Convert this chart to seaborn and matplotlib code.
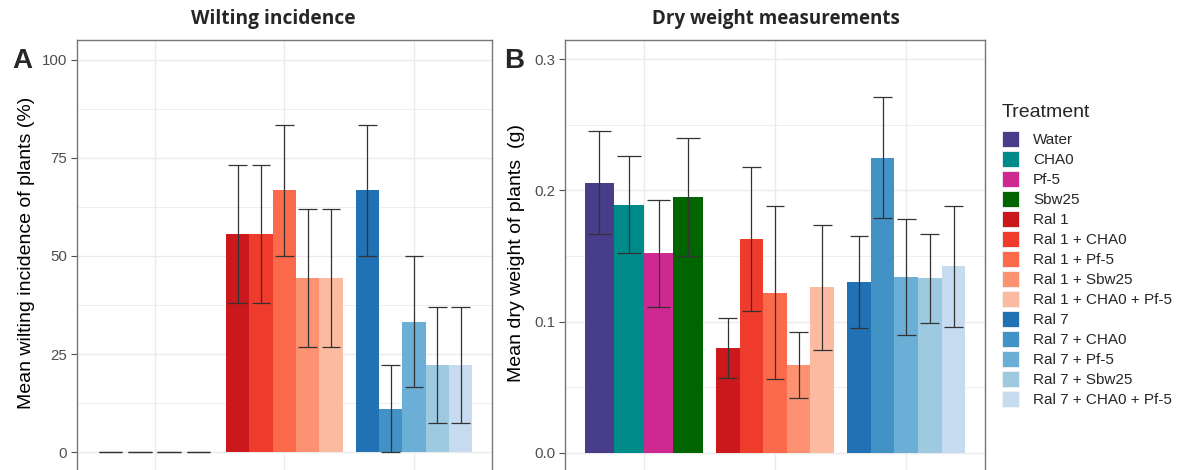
import numpy as np
import pandas as pd
import matplotlib
matplotlib.use("Agg")
import matplotlib.pyplot as plt
from matplotlib.patches import Patch
import seaborn as sns

# ---------------- data ----------------
groups = ["Control", "Ral 1", "Ral 7"]
treatments_ctrl = ["Water", "CHA0", "Pf-5", "Sbw25"]
treatments_r1 = ["Ral 1", "Ral 1 + CHA0", "Ral 1 + Pf-5", "Ral 1 + Sbw25", "Ral 1 + CHA0 + Pf-5"]
treatments_r7 = ["Ral 7", "Ral 7 + CHA0", "Ral 7 + Pf-5", "Ral 7 + Sbw25", "Ral 7 + CHA0 + Pf-5"]

colors = ["#483D8B", "#008B8B", "#CD2990", "#006400",
          "#CB181D", "#EF3B2C", "#FB6A4A", "#FC9272", "#FCBBA1",
          "#2171B5", "#4292C6", "#6BAED6", "#9ECAE1", "#C6DBEF"]

# Wilting incidence (%) mean and error (+/-)
wilt_mean = [0, 0, 0, 0,
             55.6, 55.6, 66.7, 44.4, 44.4,
             66.7, 11.1, 33.3, 22.2, 22.2]
wilt_err = [0, 0, 0, 0,
            17.5, 17.5, 16.7, 17.5, 17.5,
            16.7, 11.1, 16.7, 14.7, 14.7]

# Dry weight (g) mean and error (+/-)
dry_mean = [0.206, 0.189, 0.152, 0.195,
            0.080, 0.163, 0.122, 0.067, 0.126,
            0.130, 0.225, 0.134, 0.133, 0.142]
dry_err = [0.039, 0.037, 0.041, 0.045,
           0.023, 0.055, 0.066, 0.025, 0.048,
           0.035, 0.046, 0.044, 0.034, 0.046]

all_treat = treatments_ctrl + treatments_r1 + treatments_r7
group_of = ["Control"] * 4 + ["Ral 1"] * 5 + ["Ral 7"] * 5
palette = dict(zip(all_treat, colors))

df = pd.DataFrame({
    "group": group_of,
    "treatment": all_treat,
    "wilt": wilt_mean, "wilt_err": wilt_err,
    "dry": dry_mean, "dry_err": dry_err,
})

# ---------------- style ----------------
sns.set_style("white")
plt.rcParams["font.family"] = ["Liberation Sans", "DejaVu Sans"]

W, H = 1192, 470
fig = plt.figure(figsize=(W / 100, H / 100), dpi=100)

def px_axes(left, right, top, bottom):
    return [left / W, 1 - bottom / H, (right - left) / W, (bottom - top) / H]

axA = fig.add_axes(px_axes(76.7, 491.7, 40, 472))
axB = fig.add_axes(px_axes(565, 985, 40, 472))

tick_color = "#4D4D4D"
grid_col = "#EBEBEB"

def draw_panel(ax, col, ecol, ylim, major, minor, ylabel, tick_labels):
    for g, tlist in zip(groups, [treatments_ctrl, treatments_r1, treatments_r7]):
        sub = df[df["group"] == g]
        n_before = len(ax.patches)
        sns.barplot(data=sub, x="group", y=col, hue="treatment",
                    order=groups, hue_order=tlist, palette=palette,
                    width=0.9, dodge=True, errorbar=None, legend=False,
                    saturation=1, linewidth=0, ax=ax, zorder=2)
        new_patches = ax.patches[n_before:]
        for p, t in zip(new_patches, tlist):
            row = sub[sub["treatment"] == t].iloc[0]
            m, e = row[col], row[ecol]
            xc = p.get_x() + p.get_width() / 2
            cw = p.get_width() * 0.8
            ax.vlines(xc, m - e, m + e, color="#333333", lw=0.9, zorder=3)
            ax.hlines([m - e, m + e], xc - cw / 2, xc + cw / 2,
                      color="#333333", lw=0.9, zorder=3)
    ax.set_xlim(-0.6, 2.6)
    ax.set_ylim(*ylim)
    ax.set_yticks(major)
    ax.set_yticklabels(tick_labels)
    ax.set_yticks(minor, minor=True)
    ax.set_xticks(range(len(groups)))
    ax.set_xticklabels([])
    ax.grid(True, which="major", color=grid_col, lw=1.0, zorder=0)
    ax.grid(True, which="minor", axis="y", color=grid_col, lw=0.6, zorder=0)
    ax.set_axisbelow(True)
    ax.tick_params(axis="y", which="major", length=4, width=0.8,
                   color="#4D4D4D", labelcolor=tick_color, labelsize=10.8, pad=3, left=True)
    ax.tick_params(axis="y", which="minor", length=0)
    ax.tick_params(axis="x", length=0)
    for s in ax.spines.values():
        s.set_visible(True)
        s.set_color("#777777")
        s.set_linewidth(1.0)
    ax.set_xlabel("")
    ax.set_ylabel(ylabel, fontsize=14, color="black")

draw_panel(axA, "wilt", "wilt_err", (-5, 105), [0, 25, 50, 75, 100],
           [12.5, 37.5, 62.5, 87.5], "Mean wilting incidence of plants (%)",
           ["0", "25", "50", "75", "100"])
draw_panel(axB, "dry", "dry_err", (-0.0148, 0.3148), [0.0, 0.1, 0.2, 0.3],
           [0.05, 0.15, 0.25], "Mean dry weight of plants  (g)",
           ["0.0", "0.1", "0.2", "0.3"])

axA.yaxis.set_label_coords(-0.1005, 0.508)
axB.yaxis.set_label_coords(-0.095, 0.508)

# titles and panel letters
title_font = ["Open Sans", "DejaVu Sans"]
fig.text(273 / W, 1 - 19 / H, "Wilting incidence", ha="center", va="center",
         fontsize=13.8, fontweight="bold", family=title_font)
fig.text(776 / W, 1 - 19 / H, "Dry weight measurements", ha="center", va="center",
         fontsize=13.5, fontweight="bold", family=title_font)
fig.text(22 / W, 1 - 61 / H, "A", ha="center", va="center",
         fontsize=20, fontweight="bold", family=["Liberation Sans", "DejaVu Sans"])
fig.text(514 / W, 1 - 61 / H, "B", ha="center", va="center",
         fontsize=20, fontweight="bold", family=["Liberation Sans", "DejaVu Sans"])

# legend
handles = [Patch(facecolor=palette[t], edgecolor="#F2F2F2", lw=0.6) for t in all_treat]
leg = fig.legend(handles, all_treat, title="Treatment", loc="upper left",
                 bbox_to_anchor=(1002 / W, 1 - 104 / H), frameon=False,
                 fontsize=11, title_fontsize=14, borderpad=0, borderaxespad=0,
                 handlelength=1.12, handleheight=1.2, handletextpad=0.9,
                 labelspacing=0.26)
leg._legend_box.align = "left"
leg._legend_box.sep = 7.5

fig.savefig("out.png", dpi=100)
